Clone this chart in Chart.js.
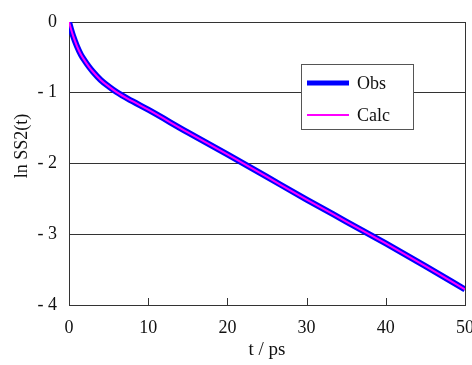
<!DOCTYPE html>
<html>
<head>
<meta charset="utf-8">
<script src="https://cdn.jsdelivr.net/npm/chart.js@4/dist/chart.umd.min.js"></script>
<style>
  html, body { margin: 0; padding: 0; background: #fff; }
  #wrap { width: 472px; height: 365px; }
</style>
</head>
<body>
<div id="wrap"><canvas id="lnChart" width="472" height="365"></canvas></div>
<script>
// data
const tValues = [0, 0.25, 0.5, 1, 1.5, 2, 2.5, 3, 4, 5, 6, 8, 10, 15, 20, 25, 30, 35, 40, 45, 50]
const obsValues = [0, -0.1, -0.19, -0.34, -0.46, -0.55, -0.63, -0.7, -0.82, -0.91, -0.99, -1.12, -1.24, -1.56, -1.87, -2.19, -2.51, -2.82, -3.13, -3.45, -3.78]
const calcValues = [0, -0.1, -0.19, -0.34, -0.46, -0.55, -0.63, -0.7, -0.82, -0.91, -0.99, -1.12, -1.24, -1.56, -1.87, -2.19, -2.51, -2.82, -3.13, -3.45, -3.78]
const xTicks = [0, 10, 20, 30, 40, 50]
const yTicks = [0, -1, -2, -3, -4]

const serif = '"Liberation Serif", "Times New Roman", serif'
const lineGray = '#333'

const toPoints = (ys) => tValues.map((t, i) => ({ x: t, y: ys[i] }))

// inward ticks on the x axis, legend box and y title
const extras = {
  id: 'extras',
  afterDraw(chart) {
    const c = chart.ctx
    const xs = chart.scales.x
    const area = chart.chartArea
    c.save()
    c.strokeStyle = lineGray
    c.lineWidth = 1
    xTicks.slice(1, -1).forEach((v) => {
      const px = Math.round(xs.getPixelForValue(v)) + 0.5
      c.beginPath()
      c.moveTo(px, area.bottom)
      c.lineTo(px, area.bottom - 7)
      c.stroke()
    })

    // legend
    const bx = 301.5, by = 64.5, bw = 112, bh = 65
    c.fillStyle = '#fff'
    c.fillRect(bx, by, bw, bh)
    c.strokeStyle = '#555'
    c.strokeRect(bx, by, bw, bh)
    const rows = [83, 115]
    chart.data.datasets.forEach((ds, i) => {
      c.strokeStyle = ds.borderColor
      c.lineWidth = ds.legendWidth
      c.beginPath()
      c.moveTo(307, rows[i])
      c.lineTo(349, rows[i])
      c.stroke()
      c.fillStyle = '#111'
      c.font = '18px ' + serif
      c.textAlign = 'left'
      c.textBaseline = 'middle'
      c.fillText(ds.label, 357, rows[i] + 1)
    })

    // y axis title
    c.translate(22, 146)
    c.rotate(-Math.PI / 2)
    c.fillStyle = '#111'
    c.font = '18px ' + serif
    c.textAlign = 'center'
    c.textBaseline = 'middle'
    c.fillText('ln SS2(t)', 0, 0)
    c.restore()
  },
}

const ctx = document.getElementById('lnChart').getContext('2d')

const lnChart = new Chart(ctx, {
  type: 'line',
  data: {
    datasets: [
      {
        label: 'Obs',
        data: toPoints(obsValues),
        borderColor: '#0000ff',
        borderWidth: 6,
        legendWidth: 5,
        pointRadius: 0,
        cubicInterpolationMode: 'monotone',
        order: 2,
      },
      {
        label: 'Calc',
        data: toPoints(calcValues),
        borderColor: '#ff00ff',
        borderWidth: 2,
        legendWidth: 2,
        pointRadius: 0,
        cubicInterpolationMode: 'monotone',
        order: 1,
      },
    ],
  },
  options: {
    responsive: false,
    animation: false,
    layout: { padding: { top: 22, right: 7, left: 0, bottom: 0 } },
    plugins: {
      legend: { display: false },
      tooltip: { enabled: false },
    },
    scales: {
      x: {
        type: 'linear',
        min: 0,
        max: 50,
        afterBuildTicks: (axis) => {
          axis.ticks = xTicks.map((v) => ({ value: v }))
        },
        afterFit: (axis) => {
          axis.height = 60
          axis.paddingLeft = 0
          axis.paddingRight = 0
        },
        grid: {
          drawTicks: false,
          color: (c) => (c.tick && (c.tick.value === 0 || c.tick.value === 50) ? lineGray : 'rgba(0,0,0,0)'),
        },
        border: { display: true, color: lineGray },
        ticks: {
          color: '#111',
          padding: 12,
          font: { family: serif, size: 18 },
        },
        title: {
          display: true,
          text: 't / ps',
          color: '#111',
          font: { family: serif, size: 19 },
          padding: { top: 4 },
        },
      },
      y: {
        type: 'linear',
        min: -4,
        max: 0,
        afterBuildTicks: (axis) => {
          axis.ticks = yTicks.map((v) => ({ value: v }))
        },
        afterFit: (axis) => {
          axis.width = 69
          axis.paddingTop = 0
          axis.paddingBottom = 0
        },
        grid: { drawTicks: false, color: lineGray },
        border: { display: true, color: lineGray },
        ticks: {
          color: '#111',
          padding: 12,
          font: { family: serif, size: 18 },
          callback: (v) => (v === 0 ? '0' : '- ' + Math.abs(v)),
        },
      },
    },
  },
  plugins: [extras],
})
</script>
</body>
</html>
